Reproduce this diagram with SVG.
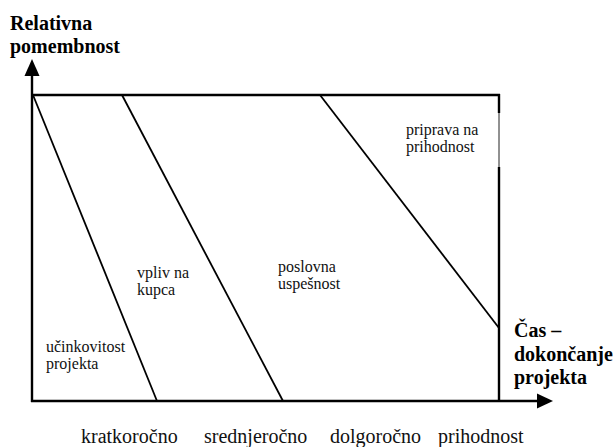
<svg xmlns="http://www.w3.org/2000/svg" width="614" height="447" viewBox="0 0 614 447">
  <style>
    .axis { stroke: #000; stroke-width: 2.4; fill: none; }
    .edge { stroke: #000; stroke-width: 2.4; fill: none; }
    .thin { stroke: #222; stroke-width: 1; fill: none; }
    .div { stroke: #000; stroke-width: 1.8; fill: none; }
    .head { fill: #000; stroke: none; }
    text { font-family: "Liberation Serif", "Times New Roman", serif; }
    .bold { font-weight: bold; font-size: 20px; fill: #000; }
    .zone { font-size: 16px; fill: #111; }
    .tick { font-size: 20px; fill: #111; }
  </style>

  <rect width="614" height="447" fill="#fff"/>

  <!-- axes and frame -->
  <g id="axes">
    <line class="axis" x1="32" y1="402" x2="32" y2="72"/>
    <polygon class="head" points="32,59 24.5,76 39.5,76"/>
    <line class="axis" x1="31" y1="401" x2="540" y2="401"/>
    <polygon class="head" points="553,401 537,393.5 537,408.5"/>
    <line class="edge" x1="32" y1="95" x2="500" y2="95"/>
    <line class="edge" x1="499" y1="94" x2="499" y2="113"/>
    <line class="thin" x1="499" y1="113" x2="499" y2="167"/>
    <line class="edge" x1="499" y1="167" x2="499" y2="401"/>
  </g>

  <!-- phase boundaries -->
  <g id="connectors">
    <line class="div" x1="33" y1="95" x2="157" y2="401"/>
    <line class="div" x1="122" y1="95" x2="283" y2="401"/>
    <line class="div" x1="320" y1="95" x2="499" y2="328"/>
  </g>

  <g id="y-label">
    <text class="bold" x="10" y="30">Relativna</text>
    <text class="bold" x="10" y="53">pomembnost</text>
  </g>

  <g id="x-label">
    <text class="bold" x="514" y="337">Čas –</text>
    <text class="bold" x="514" y="361">dokončanje</text>
    <text class="bold" x="514" y="384">projekta</text>
  </g>

  <g id="zone-efficiency">
    <text class="zone" x="46" y="352">učinkovitost</text>
    <text class="zone" x="46" y="369">projekta</text>
  </g>

  <g id="zone-customer">
    <text class="zone" x="137" y="278">vpliv na</text>
    <text class="zone" x="137" y="295">kupca</text>
  </g>

  <g id="zone-business">
    <text class="zone" x="278" y="272">poslovna</text>
    <text class="zone" x="278" y="289">uspešnost</text>
  </g>

  <g id="zone-future">
    <text class="zone" x="406" y="135">priprava na</text>
    <text class="zone" x="406" y="152">prihodnost</text>
  </g>

  <g id="time-scale">
    <text class="tick" x="81" y="443">kratkoročno</text>
    <text class="tick" x="204" y="443">srednjeročno</text>
    <text class="tick" x="330" y="443">dolgoročno</text>
    <text class="tick" x="438" y="443">prihodnost</text>
  </g>
</svg>
